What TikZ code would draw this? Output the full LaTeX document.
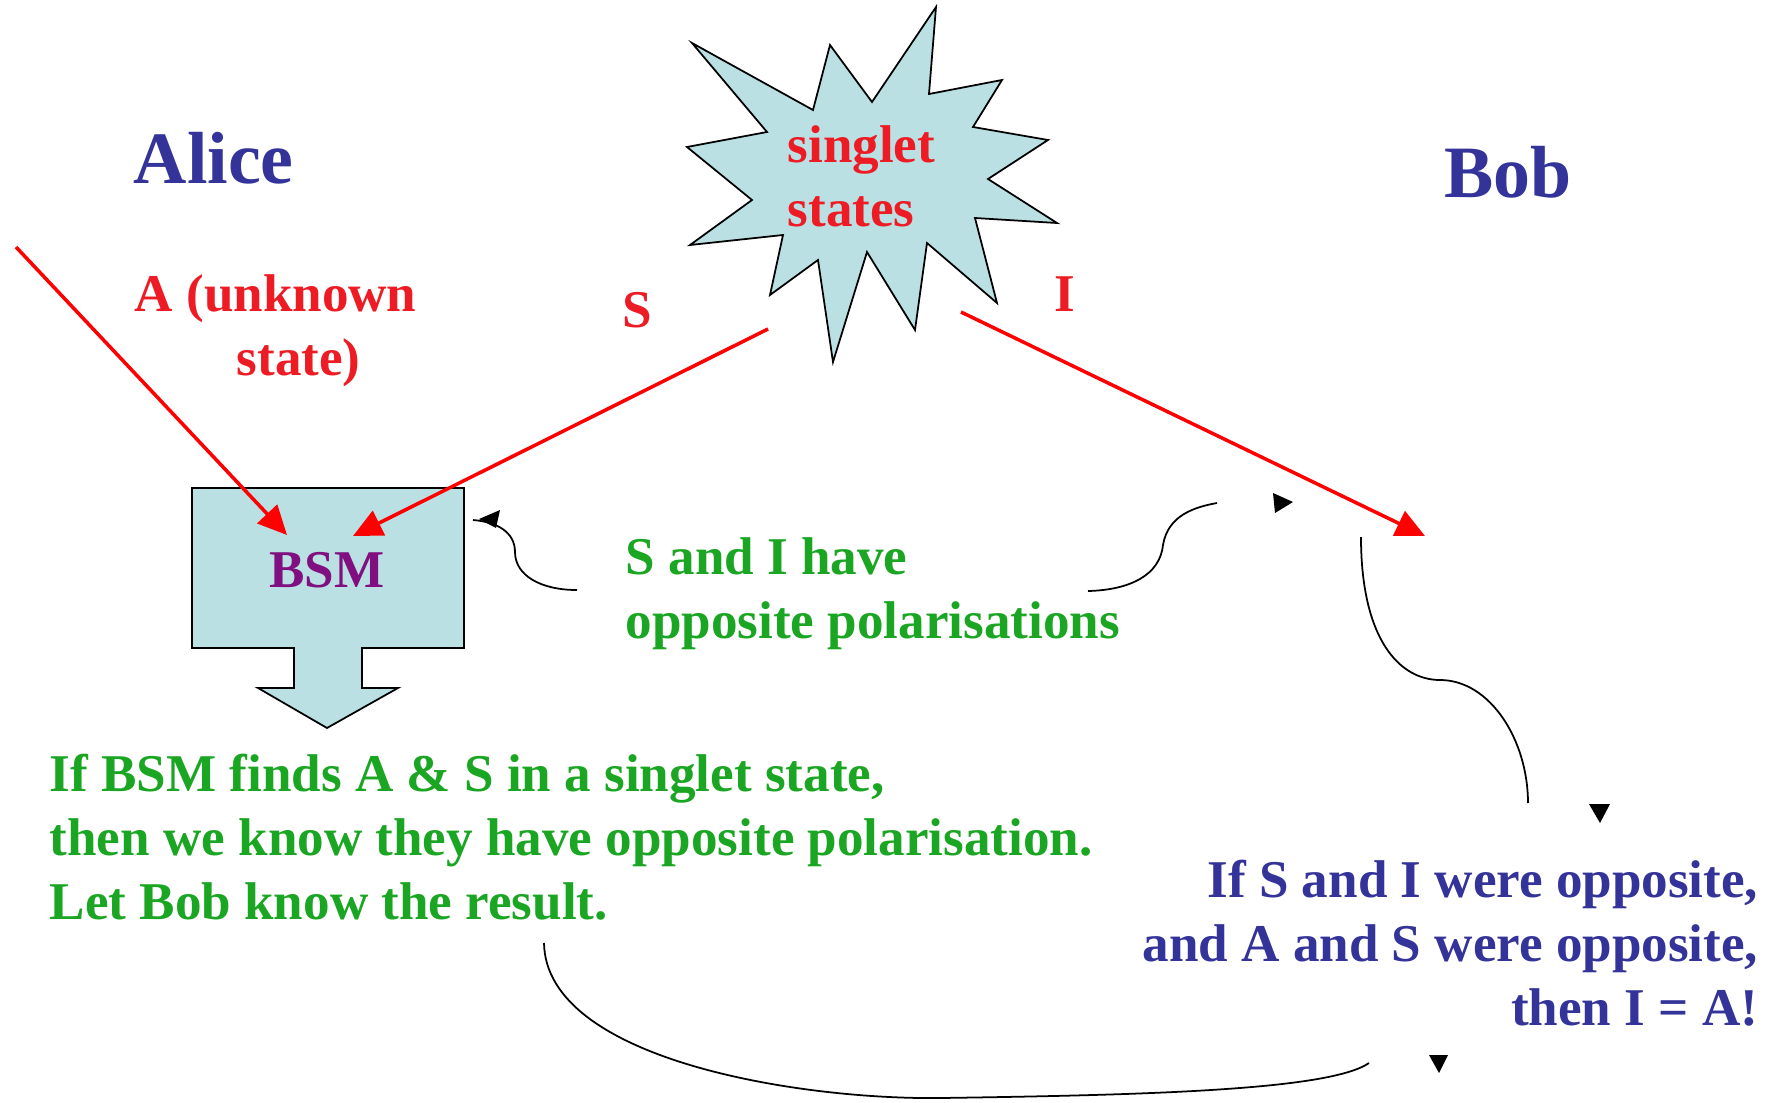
\documentclass[tikz,border=0pt]{standalone}
\usepackage{fontspec}
\setmainfont{Liberation Serif}
\usetikzlibrary{arrows.meta, calc, positioning}
\definecolor{boxblue}{RGB}{187,224,227}
\definecolor{txtgreen}{RGB}{26,165,34}
\definecolor{txtblue}{RGB}{51,51,153}
\definecolor{txtred}{RGB}{237,28,36}
\definecolor{bsmpurple}{RGB}{128,16,128}

\begin{document}
\begin{tikzpicture}[x=0.01cm, y=-0.01cm,
    txt/.style={font=\bfseries\fontsize{15.1}{18.2}\selectfont, inner sep=0pt},
    title/.style={font=\bfseries\fontsize{21}{25}\selectfont, text=txtblue, inner sep=0pt},
    photon/.style={draw=red, line width=1pt, -{Triangle[length=0.29cm, width=0.27cm]}},
    link/.style={draw=black, line width=0.5pt},
    shape fill/.style={fill=boxblue, draw=black, line width=0.5pt}]
        \useasboundingbox (0,0) rectangle (1778,1103);

        % singlet source
        \filldraw[shape fill] (692,43) -- (813,110) -- (830,45) -- (872,102) -- (936,7)
            -- (929,94) -- (1002,80) -- (973,127) -- (1048,140) -- (988,179)
            -- (1057,223) -- (975,218) -- (997,303) -- (927,243) -- (915,330)
            -- (867,252) -- (833,362) -- (818,260) -- (770,295) -- (783,235)
            -- (690,245) -- (752,200) -- (687,147) -- (767,132) -- cycle;
        % (base of a multi-line node = its last line)
        \node[txt, text=txtred, anchor=base west, align=left] (pair) at (787,226) {singlet\\states};

        % BSM block arrow
        \filldraw[shape fill] (192,488) -- (464,488) -- (464,648) -- (362,648) -- (362,688)
            -- (398,688) -- (327,728) -- (258,688) -- (294,688) -- (294,648)
            -- (192,648) -- cycle;
        \node[txt, text=bsmpurple, anchor=base] (bsm) at (327,587) {BSM};

        % parties
        \node[title, anchor=base west] (alice) at (133,183) {Alice};
        \node[title, anchor=base west] (bob) at (1444,197) {Bob};

        % photons
        \coordinate (a src) at (16,247);
        \coordinate (s src) at (768,329);
        \coordinate (i src) at (961,312);
        \coordinate (bsm a) at (287,535);
        \coordinate (bsm s) at (353,536);
        \coordinate (bob i) at (1425,536);
        \draw[photon] (a src) -- (bsm a);
        \draw[photon] (s src) -- (bsm s);
        \draw[photon] (i src) -- (bob i);

        \node[txt, text=txtred, anchor=base west, align=left] (a lbl) at (134,375) {A (unknown\\\hspace*{1.02cm}state)};
        \node[txt, text=txtred] (s lbl) at (637,310) {S};
        \node[txt, text=txtred] (i lbl) at (1065,294) {I};

        % explanations
        \node[txt, text=txtgreen, anchor=base west, align=left] (opp) at (625,638)
            {S and I have\\opposite polarisations};
        \node[txt, text=txtgreen, anchor=base west, align=left] (finds) at (49,919)
            {If BSM finds A \& S in a singlet state,\\then we know they have opposite polarisation.\\Let Bob know the result.};
        \node[txt, text=txtblue, anchor=base east, align=right] (result) at (1759,1025)
            {If S and I were opposite,\\and A and S were opposite,\\then I = A!};

        % links (heads drawn apart from the lines)
        \coordinate (opp l) at (577,590);
        \coordinate (bsm r) at (473,520);
        \coordinate (opp r) at (1088,591);
        \coordinate (pair r) at (1217,503);
        \coordinate (bob top) at (1361,537);
        \coordinate (bob mid) at (1440,680);
        \coordinate (bob bot) at (1528,803);
        \coordinate (finds b) at (544,943);
        \coordinate (low) at (941,1098);
        \coordinate (result b) at (1369,1063);

        \draw[link] (opp l) .. controls (540,590) and (515,575) .. (515,552)
            .. controls (515,532) and (497,522) .. (bsm r);
        \draw[link] (opp r) .. controls (1130,590) and (1160,575) .. (1163,545)
            .. controls (1168,515) and (1195,507) .. (pair r);
        \draw[link] (bob top) .. controls (1361,640) and (1400,680) .. (bob mid)
            .. controls (1490,680) and (1528,740) .. (bob bot);
        \draw[link] (finds b) .. controls (546,1060) and (800,1100) .. (low)
            .. controls (1150,1095) and (1330,1090) .. (result b);

        \fill (479,519) -- (500,510) -- (496,528) -- cycle;
        \fill (1293,502) -- (1273,493) -- (1275,513) -- cycle;
        \fill (1600,823) -- (1589,804) -- (1610,804) -- cycle;
        \fill (1439,1073) -- (1429,1055) -- (1448,1055) -- cycle;
\end{tikzpicture}
\end{document}
